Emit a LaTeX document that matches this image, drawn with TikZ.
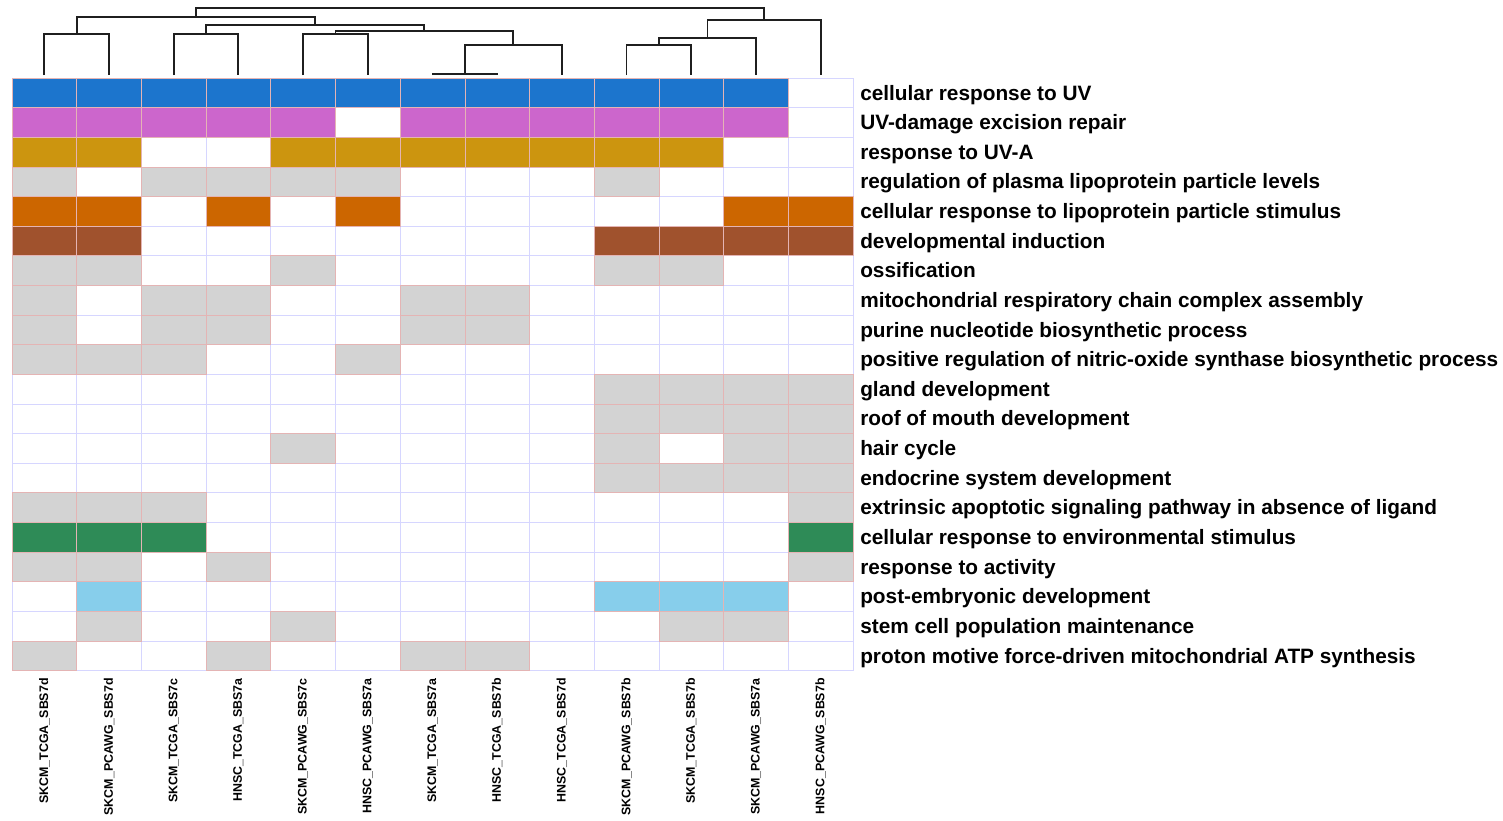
\PassOptionsToPackage{svgnames}{xcolor}
\documentclass[tikz,border=0pt]{standalone}
\usepackage{fontspec}
\setmainfont{Liberation Sans}
\usepackage{tikz}
\usepackage{xstring}

\definecolor{uvblue}{HTML}{1C75CD}
\definecolor{repairpink}{HTML}{CC66CC}
\definecolor{uvagold}{HTML}{CC950F}
\definecolor{lipoorange}{HTML}{CC6600}
\definecolor{gridlav}{HTML}{D6D6FF}
\definecolor{cellrim}{HTML}{E4B4B4}

\tikzset{
  tree/.style={line width=1.4pt, color=black!88},
  gridcell/.style={draw=gridlav, line width=0.5pt, fill=white},
  hitcell/.style={draw=cellrim, line width=0.5pt},
  rowlab/.style={anchor=base west, inner sep=0pt, font=\fontsize{15.6}{18}\selectfont\bfseries},
  collab/.style={anchor=east, rotate=90, inner sep=0pt, font=\fontsize{9.3}{11}\selectfont\bfseries}
}

% term / colour / one digit per column (0 none, 1 grey, 2 colour)
\def\hmdata{
  {cellular response to UV}/uvblue/2222222222220,
  {UV-damage excision repair}/repairpink/2222202222220,
  {response to UV-A}/uvagold/2200222222200,
  {regulation of plasma lipoprotein particle levels}/LightGray/1011110001000,
  {cellular response to lipoprotein particle stimulus}/lipoorange/2202020000022,
  {developmental induction}/Sienna/2200000002222,
  {ossification}/LightGray/1100100001100,
  {mitochondrial respiratory chain complex assembly}/LightGray/1011001100000,
  {purine nucleotide biosynthetic process}/LightGray/1011001100000,
  {positive regulation of nitric-oxide synthase biosynthetic process}/LightGray/1110010000000,
  {gland development}/LightGray/0000000001111,
  {roof of mouth development}/LightGray/0000000001111,
  {hair cycle}/LightGray/0000100001011,
  {endocrine system development}/LightGray/0000000001111,
  {extrinsic apoptotic signaling pathway in absence of ligand}/LightGray/1110000000001,
  {cellular response to environmental stimulus}/SeaGreen/2220000000002,
  {response to activity}/LightGray/1101000000001,
  {post-embryonic development}/SkyBlue/0200000002220,
  {stem cell population maintenance}/LightGray/0100100000110,
  {proton motive force-driven mitochondrial ATP synthesis}/LightGray/1001001100000
}

\begin{document}
\begin{tikzpicture}[x=0.75pt, y=-0.75pt]
  \useasboundingbox (0,0) rectangle (1503,821);

  % empty grid first
  \foreach \i in {1,...,20} {
    \foreach \j in {1,...,13} {
      \draw[gridcell] (12+\j*64.69-64.69, 78+\i*29.63-29.63) rectangle ++(64.69, 29.63);
    }
  }

  % coloured cells and term labels
  \foreach \lab/\col/\vals [count=\i] in \hmdata {
    \foreach \j in {1,...,13} {
      \StrChar{\vals}{\j}[\v]
      \ifcase\v \or
        \fill[hitcell, fill=LightGray] (12+\j*64.69-64.69, 78+\i*29.63-29.63) rectangle ++(64.69, 29.63);
      \or
        \fill[hitcell, fill=\col] (12+\j*64.69-64.69, 78+\i*29.63-29.63) rectangle ++(64.69, 29.63);
      \fi
    }
    \node[rowlab] (term\i) at (860, 78+\i*29.63-7.6) {\lab};
  }

  % signature labels under the columns
  \foreach \sig [count=\j] in {SKCM\_TCGA\_SBS7d, SKCM\_PCAWG\_SBS7d, SKCM\_TCGA\_SBS7c,
      HNSC\_TCGA\_SBS7a, SKCM\_PCAWG\_SBS7c, HNSC\_PCAWG\_SBS7a, SKCM\_TCGA\_SBS7a,
      HNSC\_TCGA\_SBS7b, HNSC\_TCGA\_SBS7d, SKCM\_PCAWG\_SBS7b, SKCM\_TCGA\_SBS7b,
      SKCM\_PCAWG\_SBS7a, HNSC\_PCAWG\_SBS7b} {
    \node[collab] (sig\j) at (12+\j*64.69-32.345, 678) {\sig};
    \coordinate (leaf\j) at (12+\j*64.69-32.345, 75);
  }

  % column dendrogram
  \coordinate (ma) at (76.65, 34);
  \coordinate (mb) at (206.05, 34);
  \coordinate (mc) at (335.45, 34);
  \coordinate (md) at (464.85, 74);
  \coordinate (me) at (513.4, 45);
  \coordinate (mf) at (424.4, 31);
  \coordinate (mg) at (315.2, 25);
  \coordinate (mh) at (195.9, 17);
  \coordinate (mi) at (659, 45);
  \coordinate (mj) at (707.5, 38);
  \coordinate (mk) at (764.1, 20);
  \coordinate (root) at (480, 8);

  \draw[tree] (leaf1) |- (ma) -| (leaf2);
  \draw[tree] (leaf3) |- (mb) -| (leaf4);
  \draw[tree] (leaf5) |- (mc) -| (leaf6);
  \draw[tree] (leaf7) |- (md) -| (leaf8);
  \draw[tree] (md) |- (me) -| (leaf9);
  \draw[tree] (mc) |- (mf) -| (me);
  \draw[tree] (mb) |- (mg) -| (mf);
  \draw[tree] (ma) |- (mh) -| (mg);
  \draw[tree] (leaf10) |- (mi) -| (leaf11);
  \draw[tree] (mi) |- (mj) -| (leaf12);
  \draw[tree] (mj) |- (mk) -| (leaf13);
  \draw[tree] (mh) |- (root) -| (mk);
\end{tikzpicture}
\end{document}
